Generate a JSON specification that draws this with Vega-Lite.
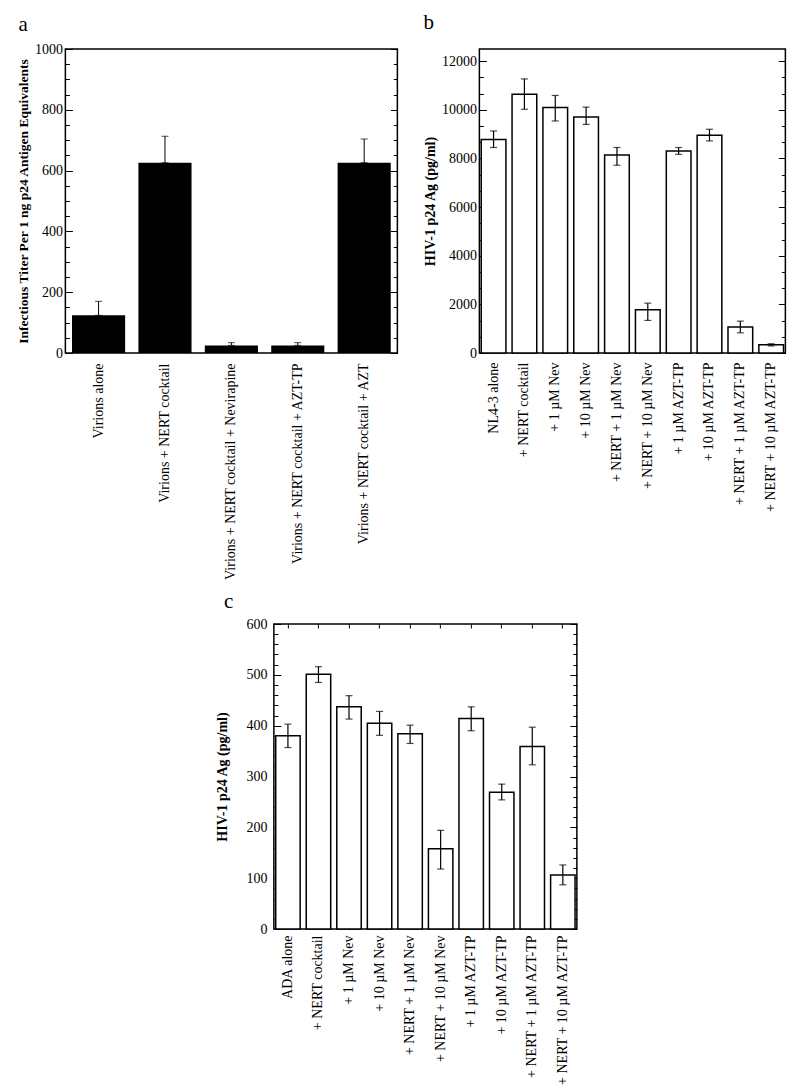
{
  "$schema": "https://vega.github.io/schema/vega-lite/v6.json",
  "padding": {"left": 15, "top": 11, "right": 5, "bottom": 5},
  "background": "white",
  "datasets": {
    "a": [
      {"label": "Virions alone", "value": 124, "hi": 170},
      {"label": "Virions + NERT cocktail", "value": 626, "hi": 713},
      {"label": "Virions + NERT cocktail + Nevirapine", "value": 25, "hi": 34},
      {"label": "Virions + NERT cocktail + AZT-TP", "value": 25, "hi": 34},
      {"label": "Virions + NERT cocktail + AZT", "value": 626, "hi": 704}
    ],
    "b": [
      {"label": "NL4-3 alone", "value": 8780, "lo": 8450, "hi": 9130},
      {"label": "+ NERT cocktail", "value": 10640, "lo": 10020, "hi": 11270},
      {"label": "+ 1 µM Nev", "value": 10090, "lo": 9540, "hi": 10590},
      {"label": "+ 10 µM Nev", "value": 9700, "lo": 9400, "hi": 10110},
      {"label": "+ NERT + 1 µM Nev", "value": 8140, "lo": 7720, "hi": 8450},
      {"label": "+ NERT + 10 µM Nev", "value": 1780, "lo": 1340, "hi": 2050},
      {"label": "+ 1 µM AZT-TP", "value": 8310, "lo": 8170, "hi": 8450},
      {"label": "+ 10 µM AZT-TP", "value": 8950, "lo": 8720, "hi": 9200},
      {"label": "+ NERT + 1 µM AZT-TP", "value": 1070, "lo": 830, "hi": 1310},
      {"label": "+ NERT + 10 µM AZT-TP", "value": 340, "lo": 290, "hi": 380}
    ],
    "c": [
      {"label": "ADA alone", "value": 380, "lo": 357, "hi": 403},
      {"label": "+ NERT cocktail", "value": 501, "lo": 485, "hi": 516},
      {"label": "+ 1 µM Nev", "value": 437, "lo": 413, "hi": 459},
      {"label": "+ 10 µM Nev", "value": 405, "lo": 381, "hi": 428},
      {"label": "+ NERT + 1 µM Nev", "value": 384, "lo": 365, "hi": 401},
      {"label": "+ NERT + 10 µM Nev", "value": 158, "lo": 118, "hi": 194},
      {"label": "+ 1 µM AZT-TP", "value": 414, "lo": 390, "hi": 437},
      {"label": "+ 10 µM AZT-TP", "value": 269, "lo": 254, "hi": 285},
      {"label": "+ NERT + 1 µM AZT-TP", "value": 359, "lo": 323, "hi": 397},
      {"label": "+ NERT + 10 µM AZT-TP", "value": 106, "lo": 87, "hi": 126}
    ]
  },
  "vconcat": [
    {
      "hconcat": [
        {
          "title": {"text": "a", "anchor": "start", "frame": "group", "dx": -47, "offset": -10, "baseline": "alphabetic", "fontSize": 21, "fontWeight": "normal", "font": "Liberation Serif", "color": "black"},
          "width": 332,
          "height": 304,
          "data": {"name": "a"},
          "layer": [
            {
              "mark": {"type": "bar", "color": "black"},
              "encoding": {
                "x": {"field": "label", "type": "nominal", "sort": null,
                  "scale": {"paddingInner": 0.2, "paddingOuter": 0.1},
                  "axis": {"title": null, "labelAngle": -90, "ticks": false, "labelPadding": 10, "labelLimit": 400}},
                "y": {"field": "value", "type": "quantitative",
                  "scale": {"domain": [0, 1000], "nice": false},
                  "axis": {"title": "Infectious Titer Per 1 ng p24 Antigen Equivalents",
                    "values": [0,50,100,150,200,250,300,350,400,450,500,550,600,650,700,750,800,850,900,950,1000],
                    "format": "d",
                    "labelExpr": "datum.value % 200 === 0 ? datum.label : ''",
                    "tickSize": {"condition": {"test": "datum.value % 200 === 0", "value": -7}, "value": -4},
                    "labelPadding": 10, "titleFontSize": 13.5, "titleFontWeight": "bold", "titlePadding": 4}}
              }
            },
            {
              "mark": {"type": "errorbar", "color": "black", "thickness": 1, "ticks": {"size": 7, "thickness": 1}},
              "encoding": {
                "x": {"field": "label", "type": "nominal", "sort": null,
                  "axis": {"title": null, "labelAngle": -90, "ticks": false, "labelPadding": 10, "labelLimit": 400}},
                "y": {"field": "value", "type": "quantitative",
                  "axis": {"orient": "right", "title": null, "labels": false,
                    "values": [0,50,100,150,200,250,300,350,400,450,500,550,600,650,700,750,800,850,900,950,1000],
                    "tickSize": {"condition": {"test": "datum.value % 200 === 0", "value": -7}, "value": -4}}},
                "y2": {"field": "hi"}
              }
            }
          ],
          "resolve": {"axis": {"y": "independent"}}
        },
        {
          "title": {"text": "b", "anchor": "start", "frame": "group", "dx": -56, "offset": -1, "baseline": "alphabetic", "fontSize": 21, "fontWeight": "normal", "font": "Liberation Serif", "color": "black"},
          "width": 306,
          "height": 304,
          "data": {"name": "b"},
          "layer": [
            {
              "mark": {"type": "bar", "fill": "white", "stroke": "black", "strokeWidth": 1.5},
              "encoding": {
                "x": {"field": "label", "type": "nominal", "sort": null,
                  "scale": {"paddingInner": 0.2, "paddingOuter": 0.06},
                  "axis": {"title": null, "labelAngle": -90, "ticks": false, "labelPadding": 9, "labelLimit": 400}},
                "y": {"field": "value", "type": "quantitative",
                  "scale": {"domain": [0, 12500], "nice": false},
                  "axis": {"title": "HIV-1 p24 Ag (pg/ml)",
                    "values": [0,666.667,1333.333,2000,2666.667,3333.333,4000,4666.667,5333.333,6000,6666.667,7333.333,8000,8666.667,9333.333,10000,10666.667,11333.333,12000],
                    "format": "d",
                    "labelExpr": "datum.value % 2000 === 0 ? datum.label : ''",
                    "tickSize": {"condition": {"test": "datum.value % 2000 === 0", "value": -7}, "value": -4},
                    "labelPadding": 10, "titleFontSize": 14, "titleFontWeight": "bold", "titlePadding": 4}}
              }
            },
            {
              "mark": {"type": "errorbar", "color": "black", "thickness": 1.2, "ticks": {"size": 7, "thickness": 1.2}},
              "encoding": {
                "x": {"field": "label", "type": "nominal", "sort": null,
                  "axis": {"title": null, "labelAngle": -90, "ticks": false, "labelPadding": 9, "labelLimit": 400}},
                "y": {"field": "lo", "type": "quantitative",
                  "axis": {"orient": "right", "title": null, "labels": false,
                    "values": [0,666.667,1333.333,2000,2666.667,3333.333,4000,4666.667,5333.333,6000,6666.667,7333.333,8000,8666.667,9333.333,10000,10666.667,11333.333,12000],
                    "tickSize": {"condition": {"test": "datum.value % 2000 === 0", "value": -7}, "value": -4}}},
                "y2": {"field": "hi"}
              }
            }
          ],
          "resolve": {"axis": {"y": "independent"}}
        }
      ],
      "spacing": 82,
      "bounds": "flush"
    },
    {
      "title": {"text": "c", "anchor": "start", "frame": "group", "dx": -50, "offset": -12, "baseline": "alphabetic", "fontSize": 21, "fontWeight": "normal", "font": "Liberation Serif", "color": "black"},
      "width": 303,
      "height": 305,
      "data": {"name": "c"},
      "layer": [
        {
          "mark": {"type": "bar", "fill": "white", "stroke": "black", "strokeWidth": 1.5},
          "encoding": {
            "x": {"field": "label", "type": "nominal", "sort": null,
              "scale": {"paddingInner": 0.2, "paddingOuter": 0.06},
              "axis": {"title": null, "labelAngle": -90, "ticks": true, "tickSize": -4, "labelPadding": 10, "labelLimit": 400}},
            "y": {"field": "value", "type": "quantitative",
              "scale": {"domain": [0, 600], "nice": false},
              "axis": {"title": "HIV-1 p24 Ag (pg/ml)",
                "values": [0,20,40,60,80,100,120,140,160,180,200,220,240,260,280,300,320,340,360,380,400,420,440,460,480,500,520,540,560,580,600],
                "format": "d",
                "labelExpr": "datum.value % 100 === 0 ? datum.label : ''",
                "tickSize": {"condition": {"test": "datum.value % 100 === 0", "value": -7}, "value": -4},
                "labelPadding": 14, "titleFontSize": 14, "titleFontWeight": "bold", "titlePadding": 16}}
          }
        },
        {
          "mark": {"type": "errorbar", "color": "black", "thickness": 1.2, "ticks": {"size": 7, "thickness": 1.2}},
          "encoding": {
            "x": {"field": "label", "type": "nominal", "sort": null,
              "axis": {"orient": "top", "title": null, "labels": false, "ticks": true, "tickSize": -4}},
            "y": {"field": "lo", "type": "quantitative",
              "axis": {"orient": "right", "title": null, "labels": false,
                "values": [0,20,40,60,80,100,120,140,160,180,200,220,240,260,280,300,320,340,360,380,400,420,440,460,480,500,520,540,560,580,600],
                "tickSize": {"condition": {"test": "datum.value % 100 === 0", "value": -7}, "value": -4}}},
            "y2": {"field": "hi"}
          }
        }
      ],
      "resolve": {"axis": {"y": "independent", "x": "independent"}}
    }
  ],
  "spacing": 9,
  "center": true,
  "config": {
    "font": "Liberation Serif",
    "view": {"stroke": "black", "strokeWidth": 1.5},
    "axis": {"labelColor": "black", "titleColor": "black", "tickColor": "black", "grid": false, "domain": false, "labelFontSize": 14, "labelFont": "Liberation Serif", "titleFont": "Liberation Serif", "tickWidth": 1}
  }
}
